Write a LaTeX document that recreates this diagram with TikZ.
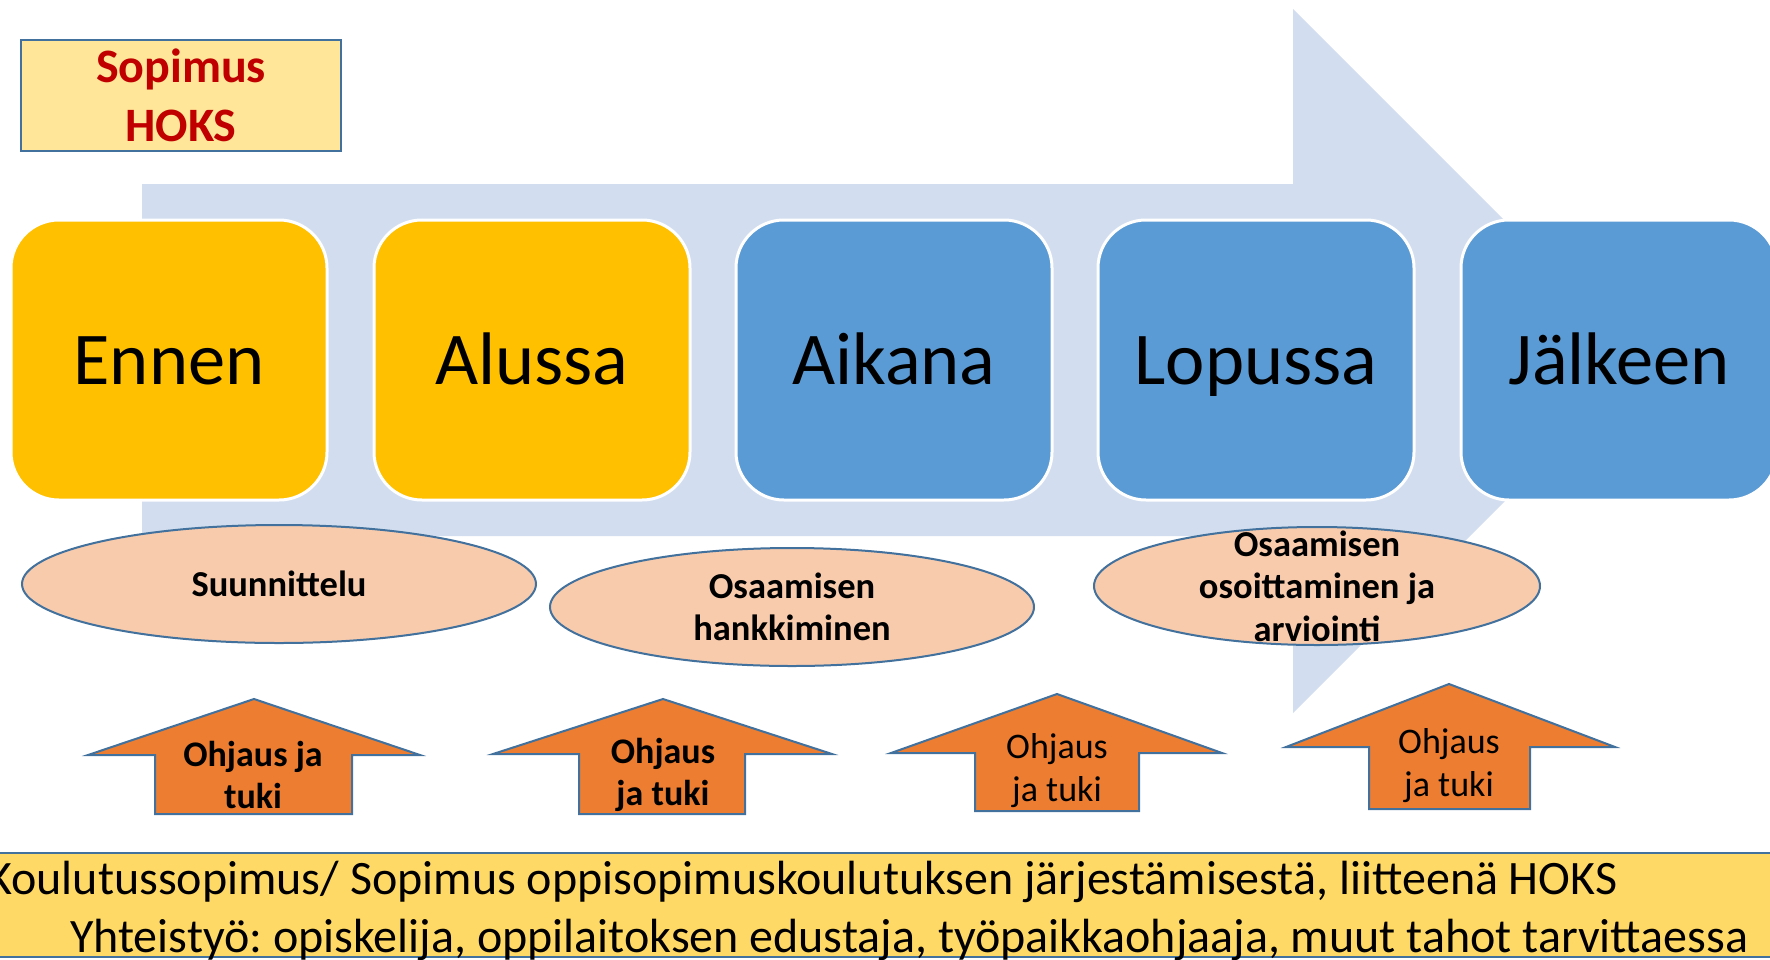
\documentclass[tikz,border=0pt]{standalone}
\usepackage{fontspec}
\setmainfont{Carlito}
\usetikzlibrary{shapes.geometric}
\definecolor{bgarrow}{RGB}{210,222,239}
\definecolor{gold}{RGB}{255,192,0}
\definecolor{stepblue}{RGB}{91,155,213}
\definecolor{edgeblue}{RGB}{65,113,156}
\definecolor{peach}{RGB}{248,203,173}
\definecolor{orng}{RGB}{237,125,49}
\definecolor{paleyellow}{RGB}{255,230,153}
\definecolor{bannerfill}{RGB}{255,217,102}
\definecolor{darkred}{RGB}{192,0,0}
\newcommand\myuparrow[9]{%
  \draw[uparrowshape] (#2,#3) -- (#5,#6) -- (#8,#6) -- (#8,#9) -- (#7,#9) -- (#7,#6) -- (#4,#6) -- cycle;
  \coordinate (#1) at (#2,#3);}
\tikzset{
  stage/.style={draw=white, line width=3pt, rounded corners=48pt, minimum width=316pt, minimum height=280pt, inner sep=0pt, text height=48pt, text depth=0pt, font=\fontsize{74.5}{80}\selectfont},
  yellowstage/.style={stage, fill=gold},
  bluestage/.style={stage, fill=stepblue},
  phase/.style={ellipse, draw=edgeblue, line width=2pt, fill=peach, minimum width=#1, minimum height=118pt, inner sep=0pt},
  phasetext/.style={align=center, inner sep=0pt, font=\bfseries\fontsize{36.5}{42.5}\selectfont},
  uparrowshape/.style={draw=edgeblue, line width=2pt, fill=orng, line join=miter},
  arrowtext/.style={align=center, inner sep=0pt, font=\fontsize{36}{43}\selectfont},
  arrowtextbold/.style={align=center, inner sep=0pt, font=\bfseries\fontsize{36}{42}\selectfont},
  bannerline/.style={inner sep=0pt, font=\frenchspacing\fontsize{48}{57}\selectfont},
}
\begin{document}
\begin{tikzpicture}[x=1pt,y=-1pt]
\useasboundingbox (0,0) rectangle (1770,959);
\clip (0,0) rectangle (1770,959);
\fill[white] (0,0) rectangle (1770,959);
% big background arrow
\fill[bgarrow] (142,184) -- (1293,184) -- (1293,9) -- (1645,361) -- (1293,713) -- (1293,536) -- (142,536) -- cycle;
% title box
\node[draw=edgeblue, fill=paleyellow, line width=2.5pt, minimum width=320pt, minimum height=111pt, align=center, text=darkred, font=\bfseries\fontsize{48}{59}\selectfont] (sopbox) at (181,95.5) {Sopimus\\HOKS};
% stages
\node[yellowstage] (ennen) at (169,360) {Ennen};
\node[yellowstage] (alussa) at (532,360) {Alussa};
\node[bluestage] (aikana) at (894,360) {Aikana};
\node[bluestage] (lopussa) at (1256,360) {Lopussa};
\node[bluestage] (jalkeen) at (1619,360) {Jälkeen};
% phases
\node[phase=514pt] (e1) at (279,584) {};
\node[phasetext] (t1) at (e1.center) {Suunnittelu};
\node[phase=484pt] (e2) at (792,607) {};
\node[phasetext] (t2) at (e2.center) {Osaamisen\\hankkiminen};
\node[phase=446pt] (e3) at (1317,586) {};
\node[phasetext] (t3) at (e3.center) {Osaamisen\\osoittaminen ja\\arviointi};
% up arrows
\myuparrow{a1}{254}{699}{88}{420}{755}{155}{352}{814}
\node[arrowtextbold] (at1) at (253,775) {Ohjaus ja\\tuki};
\myuparrow{a2}{663}{699}{493}{832}{754}{579}{745}{814}
\node[arrowtextbold] (at2) at (663,775) {Ohjaus\\ja tuki};
\myuparrow{a3}{1057}{694}{891}{1222}{753}{975}{1139}{811}
\node[arrowtext] (at3) at (1057,771) {Ohjaus\\ja tuki};
\myuparrow{a4}{1449}{684}{1286}{1615}{747}{1369}{1530}{809}
\node[arrowtext] (at4) at (1449,766) {Ohjaus\\ja tuki};
% banner
\node[draw=edgeblue, fill=bannerfill, line width=2pt, minimum width=1790pt, minimum height=104pt, inner sep=0pt] (banner) at (885,905) {};
\node[bannerline, anchor=base east] (l1) at (1618,894) {Koulutussopimus/ Sopimus oppisopimuskoulutuksen järjestämisestä, liitteenä HOKS};
\node[bannerline, anchor=base west] (l2) at (70,952) {Yhteistyö: opiskelija, oppilaitoksen edustaja, työpaikkaohjaaja, muut tahot tarvittaessa};
\end{tikzpicture}
\end{document}
